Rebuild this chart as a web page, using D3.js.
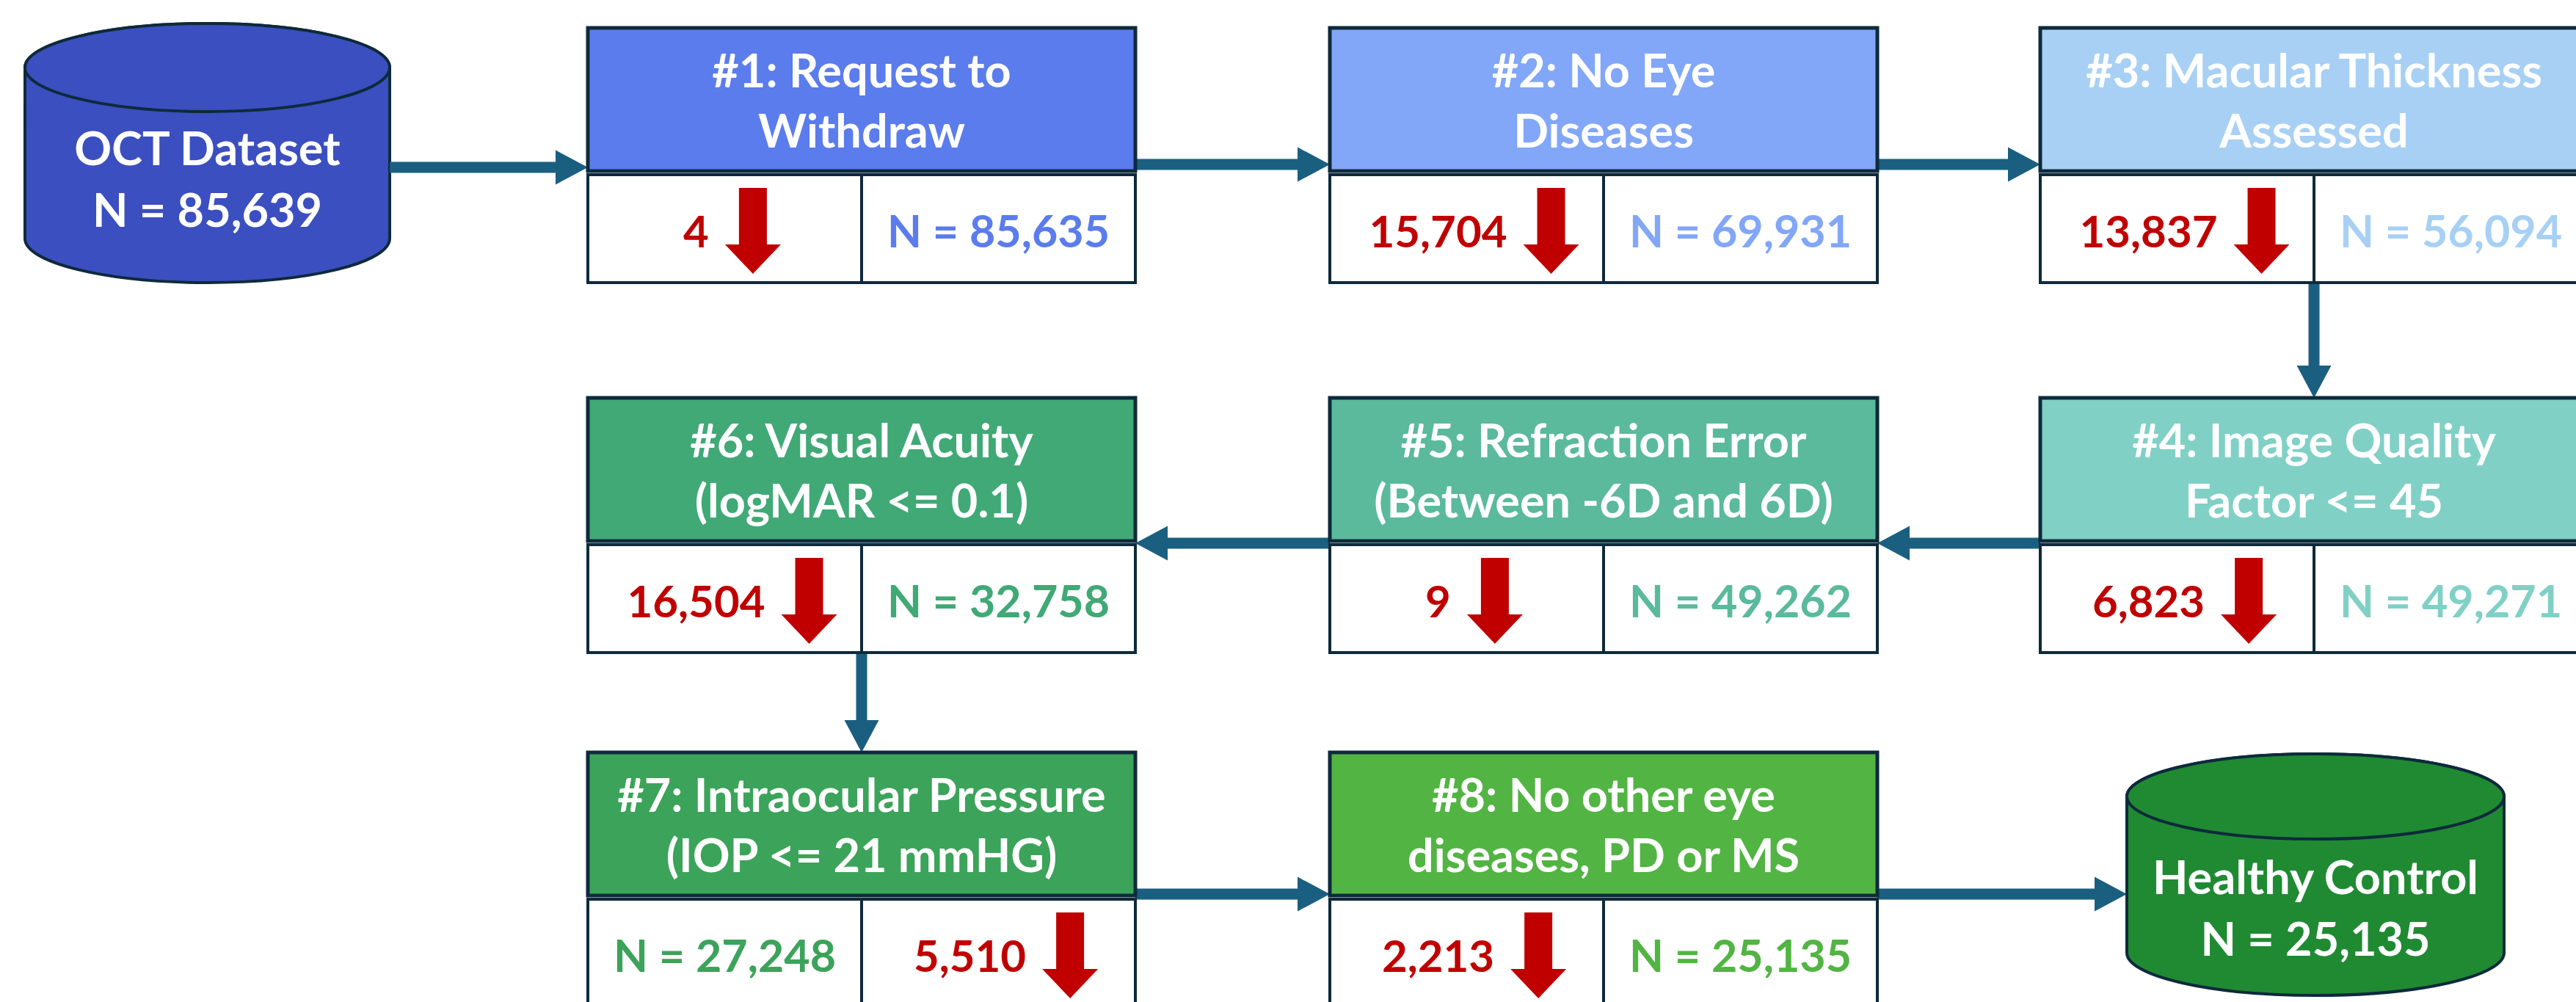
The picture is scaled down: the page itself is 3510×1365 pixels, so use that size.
<!DOCTYPE html>
<html>
<head>
<meta charset="utf-8">
<script src="https://cdn.jsdelivr.net/npm/d3@7"></script>
<style>
  body { margin: 0; background: #fff; }
  svg { display: block; }
  text { font-family: Lato, "Open Sans", sans-serif; font-weight: 700; }
</style>
</head>
<body>
<svg id="chart"></svg>
<script>
// step data
const titles = [
  ["#1: Request to", "Withdraw"],
  ["#2: No Eye", "Diseases"],
  ["#3: Macular Thickness", "Assessed"],
  ["#4: Image Quality", "Factor <= 45"],
  ["#5: Refraction Error", "(Between -6D and 6D)"],
  ["#6: Visual Acuity", "(logMAR <= 0.1)"],
  ["#7: Intraocular Pressure", "(IOP <= 21 mmHG)"],
  ["#8: No other eye", "diseases, PD or MS"]
];
const excluded = [4, 15704, 13837, 6823, 9, 16504, 5510, 2213];
const remaining = [85635, 69931, 56094, 49271, 49262, 32758, 27248, 25135];
const stepColors = ["#5b7cec", "#82a6f8", "#a8d0f4", "#80d0c6", "#5aba9b", "#40a976", "#3ca35a", "#52b443"];

const sourceLabel = ["OCT Dataset", "N = 85,639"];
const targetLabel = ["Healthy Control", "N = 25,135"];

// where each step sits in the snake layout (col, row) and which side shows N
const stepCol = [0, 1, 2, 2, 1, 0, 0, 1];
const stepRow = [0, 0, 0, 1, 1, 1, 2, 2];
const nOnLeft = [false, false, false, false, false, false, true, false];

const width = 3510, height = 1365;
const boxW = 746, headH = 195, gap = 5, cellH = 147;
const lineCol = "#0e2a3b", arrowCol = "#1a5f80", red = "#c00000";

const xCol = d3.scaleOrdinal().domain([0, 1, 2]).range([801, 1812, 2780]);
const yRow = d3.scaleOrdinal().domain([0, 1, 2]).range([38, 542, 1025]);
const fmt = d3.format(",");

const svg = d3.select("#chart").attr("width", width).attr("height", height);

// block arrow from (x1,y1) to tip (x2,y2)
function arrow(x1, y1, x2, y2) {
  const shaft = 15, headW = 47, headL = 44;
  const len = Math.hypot(x2 - x1, y2 - y1);
  const a = Math.atan2(y2 - y1, x2 - x1) * 180 / Math.PI;
  const s = len - headL;
  const pts = [[0, -shaft/2], [s, -shaft/2], [s, -headW/2], [len, 0], [s, headW/2], [s, shaft/2], [0, shaft/2]];
  svg.append("polygon")
    .attr("points", pts.map(p => p.join(",")).join(" "))
    .attr("fill", arrowCol)
    .attr("transform", `translate(${x1},${y1}) rotate(${a})`);
}

function cylinder(x0, x1, top, bottom, ry, fill, lines, shift) {
  const rx = (x1 - x0) / 2, cx = (x0 + x1) / 2;
  const g = svg.append("g");
  g.append("path")
    .attr("d", `M${x0},${top + ry} A${rx},${ry} 0 0 1 ${x1},${top + ry} V${bottom - ry} A${rx},${ry} 0 0 1 ${x0},${bottom - ry} Z`)
    .attr("fill", fill).attr("stroke", lineCol).attr("stroke-width", 4);
  g.append("ellipse")
    .attr("cx", cx).attr("cy", top + ry).attr("rx", rx).attr("ry", ry)
    .attr("fill", fill).attr("stroke", lineCol).attr("stroke-width", 4);
  const mid = (top + 2 * ry + bottom) / 2 + shift;
  g.selectAll("text").data(lines).join("text")
    .attr("x", cx).attr("y", (d, i) => mid + (i - 0.5) * 84)
    .attr("text-anchor", "middle").attr("dominant-baseline", "central")
    .attr("font-size", 63).attr("fill", "#fff").text(d => d);
}

// red "excluded" marker: number then down arrow, centred in a cell
function excludedCell(cx, top, value) {
  const g = svg.append("g");
  const t = g.append("text")
    .attr("y", top + cellH / 2 + 2).attr("dominant-baseline", "central")
    .attr("font-size", 60).attr("fill", red).text(fmt(value));
  const tw = t.node().getComputedTextLength();
  const aw = 76, gapX = 22;
  const left = cx + 10 - (tw + gapX + aw) / 2;
  t.attr("x", left);
  const ax = left + tw + gapX + aw / 2;
  const at = top + 18, ab = top + cellH - 12, hl = 40, sw = 38;
  g.append("polygon")
    .attr("points", [[ax - sw/2, at], [ax + sw/2, at], [ax + sw/2, ab - hl], [ax + aw/2, ab - hl], [ax, ab],
                     [ax - aw/2, ab - hl], [ax - sw/2, ab - hl]].map(p => p.join(",")).join(" "))
    .attr("fill", red);
}

// arrows first so boxes sit on top
const hb = r => yRow(r) + headH;
cylinder(34, 531, 32, 385, 60, "#3b4fc0", sourceLabel, -26);
arrow(531, hb(0) - 5, xCol(0), hb(0) - 5);
arrow(xCol(0) + boxW, hb(0) - 9, xCol(1), hb(0) - 9);
arrow(xCol(1) + boxW, hb(0) - 9, xCol(2), hb(0) - 9);
arrow(xCol(2) + boxW / 2, hb(0) + gap + cellH, xCol(2) + boxW / 2, yRow(1));
arrow(xCol(2), hb(1) + 3, xCol(1) + boxW, hb(1) + 3);
arrow(xCol(1), hb(1) + 3, xCol(0) + boxW, hb(1) + 3);
arrow(xCol(0) + boxW / 2, hb(1) + gap + cellH, xCol(0) + boxW / 2, yRow(2));
arrow(xCol(0) + boxW, hb(2) - 2, xCol(1), hb(2) - 2);
arrow(xCol(1) + boxW, hb(2) - 2, 2898, hb(2) - 2);
cylinder(2898, 3412, 1027, 1356, 58, "#1f8a32", targetLabel, -14);

titles.forEach((lines, i) => {
  const x = xCol(stepCol[i]), y = yRow(stepRow[i]);
  const g = svg.append("g");
  g.append("rect").attr("x", x).attr("y", y).attr("width", boxW).attr("height", headH)
    .attr("fill", stepColors[i]).attr("stroke", lineCol).attr("stroke-width", 5);
  g.selectAll("text.t").data(lines).join("text").attr("class", "t")
    .attr("x", x + boxW / 2).attr("y", (d, k) => y + headH / 2 + (k - 0.5) * 82)
    .attr("text-anchor", "middle").attr("dominant-baseline", "central")
    .attr("font-size", 63).attr("fill", "#fff").text(d => d);
  const cy = y + headH + gap;
  [0, 1].forEach(k => {
    g.append("rect").attr("x", x + k * boxW / 2).attr("y", cy).attr("width", boxW / 2).attr("height", cellH)
      .attr("fill", "#fff").attr("stroke", lineCol).attr("stroke-width", 4);
  });
  const nSide = nOnLeft[i] ? 0 : 1;
  g.append("text")
    .attr("x", x + boxW / 4 + nSide * boxW / 2).attr("y", cy + cellH / 2 + 2)
    .attr("text-anchor", "middle").attr("dominant-baseline", "central")
    .attr("font-size", 61).attr("fill", stepColors[i]).text("N = " + fmt(remaining[i]));
  excludedCell(x + boxW / 4 + (1 - nSide) * boxW / 2, cy, excluded[i]);
});
</script>
</body>
</html>
